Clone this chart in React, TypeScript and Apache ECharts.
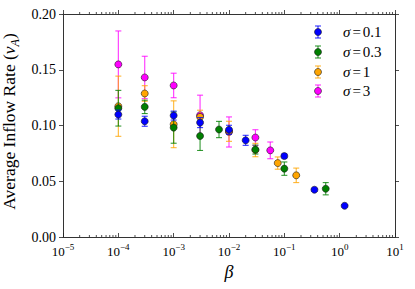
import React, { useEffect, useRef } from 'react';
import * as echarts from 'echarts';

// ---- data ----
const sigmaLabels = ['0.1', '0.3', '1', '3'];
const seriesColors = ['#0000ff', '#008000', '#ffa500', '#ff00ff'];

const betaS01 = [1e-4, 3e-4, 1e-3, 3e-3, 1e-2, 2e-2, 0.1, 0.35, 1.23];
const rateS01 = [0.1098, 0.1038, 0.1089, 0.1026, 0.0962, 0.0867, 0.0726, 0.0424, 0.028];
const errS01 = [0.004, 0.0045, 0.004, 0.0045, 0.004, 0.0045, 0.002, 0.0015, 0.001];

const betaS03 = [1e-4, 3e-4, 1e-3, 3e-3, 6.6e-3, 3e-2, 0.1, 0.56];
const rateS03 = [0.1155, 0.1167, 0.0981, 0.0906, 0.0964, 0.0784, 0.0613, 0.0433];
const errS03 = [0.016, 0.006, 0.014, 0.013, 0.0073, 0.004, 0.006, 0.0055];

const betaS1 = [1e-4, 3e-4, 1e-3, 3e-3, 1e-2, 3e-2, 0.076, 0.164];
const rateS1 = [0.1173, 0.1287, 0.1011, 0.1077, 0.0948, 0.078, 0.0663, 0.0553];
const errS1 = [0.027, 0.007, 0.021, 0.006, 0.009, 0.006, 0.0055, 0.0065];

const betaS3 = [1e-4, 3e-4, 1e-3, 3e-3, 1e-2, 3e-2, 0.0557];
const rateS3 = [0.1548, 0.1431, 0.1359, 0.1092, 0.0942, 0.0892, 0.0777];
const errS3 = [0.03, 0.019, 0.011, 0.018, 0.0135, 0.007, 0.0075];

const xDecades = [1e-5, 1e-4, 1e-3, 1e-2, 1e-1, 1];
const minorMultipliers = [2, 3, 4, 5, 6, 7, 8, 9];

const allSeries = [
  { beta: betaS01, rate: rateS01, err: errS01 },
  { beta: betaS03, rate: rateS03, err: errS03 },
  { beta: betaS1, rate: rateS1, err: errS1 },
  { beta: betaS3, rate: rateS3, err: errS3 },
];

const FONT = 'Liberation Serif';
const MINUS = '\u2212';

export default function App() {
  const ref = useRef<HTMLDivElement>(null);
  useEffect(() => {
    if (!ref.current) return;
    const chart = echarts.init(ref.current, undefined, { renderer: 'svg' });

    const minorTicks: number[][] = [];
    xDecades.forEach((d) => minorMultipliers.forEach((m) => minorTicks.push([d * m, 0.1])));

    const series: any[] = [];
    // draw order: sigma=3 bottom ... sigma=0.1 top
    const order = [3, 2, 1, 0];
    order.forEach((idx, k) => {
      const s = allSeries[idx];
      const color = seriesColors[idx];
      const errData = s.beta.map((b, i) => [b, s.rate[i] - s.err[i], s.rate[i] + s.err[i]]);
      const ptData = s.beta.map((b, i) => [b, s.rate[i]]);
      series.push({
        type: 'custom',
        name: 'err' + sigmaLabels[idx],
        xAxisIndex: 0,
        yAxisIndex: 0,
        z: 2 + 2 * k,
        silent: true,
        encode: { x: 0, y: [1, 2] },
        data: errData,
        renderItem: (params: any, api: any) => {
          const x = api.value(0);
          const a = api.coord([x, api.value(1)]);
          const b = api.coord([x, api.value(2)]);
          const c = 3;
          const style = { stroke: color, lineWidth: 1.1, opacity: 0.8 };
          return {
            type: 'group',
            children: [
              { type: 'line', shape: { x1: a[0], y1: a[1], x2: b[0], y2: b[1] }, style },
              { type: 'line', shape: { x1: a[0] - c, y1: a[1], x2: a[0] + c, y2: a[1] }, style },
              { type: 'line', shape: { x1: b[0] - c, y1: b[1], x2: b[0] + c, y2: b[1] }, style },
            ],
          };
        },
      });
      series.push({
        type: 'scatter',
        name: '\u03c3=' + sigmaLabels[idx],
        xAxisIndex: 0,
        yAxisIndex: 0,
        z: 3 + 2 * k,
        symbol: 'circle',
        symbolSize: 7,
        itemStyle: { color, borderColor: '#1a1a1a', borderWidth: 0.6, opacity: 1 },
        data: ptData,
      });
    });

    series.push({
      type: 'custom',
      name: 'minorTicks',
      xAxisIndex: 0,
      yAxisIndex: 0,
      silent: true,
      clip: false,
      z: 20,
      encode: { x: 0, y: 1 },
      data: minorTicks,
      renderItem: (params: any, api: any) => {
        const p = api.coord([api.value(0), 0.1]);
        const cs = params.coordSys;
        const bottom = cs.y + cs.height;
        const top = cs.y;
        const st = { stroke: '#222', lineWidth: 0.8 };
        return {
          type: 'group',
          children: [
            { type: 'line', shape: { x1: p[0], y1: bottom, x2: p[0], y2: bottom - 2 }, style: st },
            { type: 'line', shape: { x1: p[0], y1: top, x2: p[0], y2: top - 2 }, style: st },
          ],
        };
      },
    });

    const mkLine = () => ({ show: true, onZero: false, lineStyle: { color: '#333', width: 1 } });
    const mkTick = (inside: boolean) => ({ show: true, inside, length: 4, lineStyle: { color: '#222', width: 0.8 } });

    const legendRowsY = [32, 52, 72, 91];
    const legendGraphics: any[] = [];
    sigmaLabels.forEach((lab, i) => {
      const y = legendRowsY[i];
      const x = 318;
      const color = seriesColors[i];
      const st = { stroke: color, lineWidth: 1.1, opacity: 0.8 };
      legendGraphics.push(
        { type: 'line', shape: { x1: x, y1: y - 6, x2: x, y2: y + 6 }, style: st },
        { type: 'line', shape: { x1: x - 3, y1: y - 6, x2: x + 3, y2: y - 6 }, style: st },
        { type: 'line', shape: { x1: x - 3, y1: y + 6, x2: x + 3, y2: y + 6 }, style: st },
        { type: 'circle', shape: { cx: x, cy: y, r: 3.5 }, style: { fill: color, stroke: '#1a1a1a', lineWidth: 0.6 } },
        {
          type: 'text',
          x: 343,
          y,
          style: {
            text: '{i|\u03c3}{e|=}{t|' + lab + '}',
            verticalAlign: 'middle',
            rich: {
              i: { fontFamily: FONT, fontStyle: 'italic', fontSize: 15, fill: '#000' },
              e: { fontFamily: FONT, fontSize: 15, fill: '#000', padding: [0, 2, 0, 2] },
              t: { fontFamily: FONT, fontSize: 15, fill: '#000', letterSpacing: 1.5 } as any,
            },
          },
        }
      );
    });

    chart.setOption({
      animation: false,
      backgroundColor: '#fff',
      grid: { left: 63, right: 20, top: 14, bottom: 52, outerBoundsMode: 'none' },
      xAxis: [
        {
          type: 'log',
          logBase: 10,
          min: 1e-5,
          max: 10,
          splitNumber: 6,
          position: 'bottom',
          axisLine: mkLine(),
          axisTick: mkTick(true),
          splitLine: { show: false },
          minorTick: { show: false },
          axisLabel: {
            show: true,
            margin: 5,
            showMinLabel: true,
            showMaxLabel: true,
            hideOverlap: false,
            formatter: (v: number) => {
              const e = Math.round(Math.log10(v));
              const es = e < 0 ? MINUS + String(-e) : String(e);
              return '{b|10}{s|' + es + '}';
            },
            rich: {
              b: { fontFamily: FONT, fontSize: 13, color: '#000', lineHeight: 16, verticalAlign: 'bottom' },
              s: { fontFamily: FONT, fontSize: 9, color: '#000', lineHeight: 10, verticalAlign: 'top' },
            },
          },
          name: '\u03b2',
          nameLocation: 'middle',
          nameGap: 22,
          nameTextStyle: { fontFamily: FONT, fontStyle: 'italic', fontSize: 18, color: '#000' },
        },
        {
          type: 'log',
          logBase: 10,
          min: 1e-5,
          max: 10,
          splitNumber: 6,
          position: 'top',
          axisLine: mkLine(),
          axisTick: mkTick(false),
          splitLine: { show: false },
          axisLabel: { show: false },
        },
      ],
      yAxis: [
        {
          type: 'value',
          min: 0,
          max: 0.2,
          interval: 0.05,
          position: 'left',
          axisLine: mkLine(),
          axisTick: mkTick(false),
          splitLine: { show: false },
          axisLabel: {
            margin: 7,
            showMinLabel: true,
            showMaxLabel: true,
            fontFamily: FONT,
            fontSize: 14,
            color: '#000',
            formatter: (v: number) => v.toFixed(2),
          },
          name: 'Average Inflow Rate ({i|\u03bd}{s|A})',
          nameLocation: 'middle',
          nameGap: 38,
          nameTextStyle: {
            fontFamily: FONT,
            fontSize: 17.5,
            color: '#000',
            padding: [0, 0, 0, 8],
            rich: {
              i: { fontFamily: FONT, fontStyle: 'italic', fontSize: 17.5, color: '#000' },
              s: { fontFamily: FONT, fontStyle: 'italic', fontSize: 12, color: '#000', verticalAlign: 'bottom', lineHeight: 24 },
            },
          },
        },
        {
          type: 'value',
          min: 0,
          max: 0.2,
          interval: 0.05,
          position: 'right',
          axisLine: mkLine(),
          axisTick: mkTick(false),
          splitLine: { show: false },
          axisLabel: { show: false },
        },
      ],
      graphic: legendGraphics,
      series,
    });
    return () => chart.dispose();
  }, []);
  return (
    <div
      ref={ref}
      style={{ position: 'fixed', left: 0, top: 0, width: 415, height: 289, background: '#fff' }}
    />
  );
}
